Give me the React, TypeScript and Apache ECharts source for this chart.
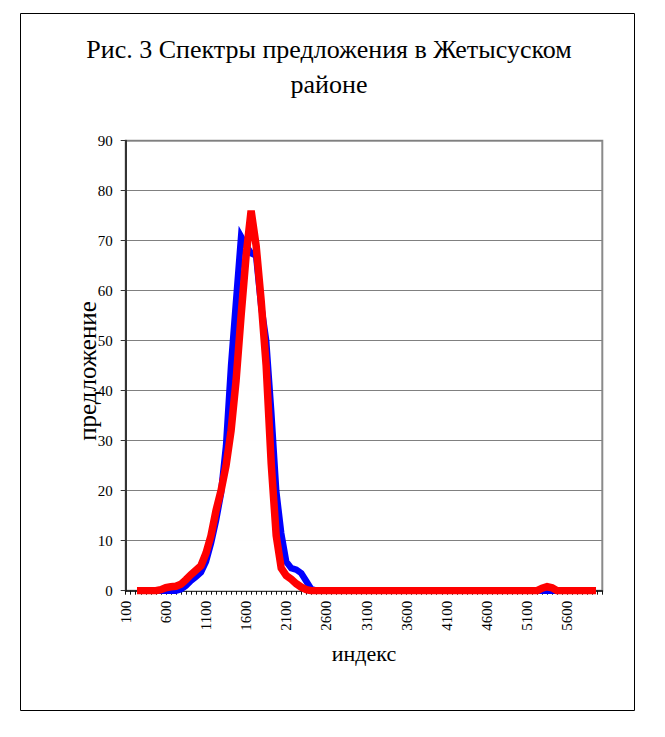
import React, { useEffect, useRef } from "react";
import * as echarts from "echarts";

const categories = [
  100, 162.5, 225, 287.5, 350, 412.5, 475, 537.5,
  600, 662.5, 725, 787.5, 850, 912.5, 975, 1037.5,
  1100, 1162.5, 1225, 1287.5, 1350, 1412.5, 1475, 1537.5,
  1600, 1662.5, 1725, 1787.5, 1850, 1912.5, 1975, 2037.5,
  2100, 2162.5, 2225, 2287.5, 2350, 2412.5, 2475, 2537.5,
  2600, 2662.5, 2725, 2787.5, 2850, 2912.5, 2975, 3037.5,
  3100, 3162.5, 3225, 3287.5, 3350, 3412.5, 3475, 3537.5,
  3600, 3662.5, 3725, 3787.5, 3850, 3912.5, 3975, 4037.5,
  4100, 4162.5, 4225, 4287.5, 4350, 4412.5, 4475, 4537.5,
  4600, 4662.5, 4725, 4787.5, 4850, 4912.5, 4975, 5037.5,
  5100, 5162.5, 5225, 5287.5, 5350, 5412.5, 5475, 5537.5,
  5600, 5662.5, 5725, 5787.5, 5850, 5912.5, 5975, 6037.5,
];

// blue series (index 0..95)
const blueValues = [
  null, null, null, 0, 0, 0, 0, 0,
  0, 0, 0, 0.3, 1, 2, 2.8, 3.7,
  5.8, 9.5, 14, 19.5, 29, 45, 58, 70.8,
  69, 67.5, 67, 57, 50, 36, 20, 11.5,
  5.8, 4.5, 4.2, 3.5, 1.9, 0.3, 0, 0,
  0, 0, 0, 0, 0, 0, 0, 0,
  0, 0, 0, 0, 0, 0, 0, 0,
  0, 0, 0, 0, 0, 0, 0, 0,
  0, 0, 0, 0, 0, 0, 0, 0,
  0, 0, 0, 0, 0, 0, 0, 0,
  0, 0, 0, 0, 0, 0, 0, 0,
  0, 0, 0, 0, 0, 0, null, null,
];

// red series (index 0..95)
const redValues = [
  null, null, null, 0, 0, 0, 0, 0.2,
  0.6, 0.8, 0.9, 1.3, 2.2, 3.2, 4.1, 5,
  7.5, 11, 16, 20, 25, 32, 42, 55,
  67, 76, 69, 58, 45, 25.5, 11, 4.5,
  3, 2.3, 1.4, 0.7, 0.2, 0, 0, 0,
  0, 0, 0, 0, 0, 0, 0, 0,
  0, 0, 0, 0, 0, 0, 0, 0,
  0, 0, 0, 0, 0, 0, 0, 0,
  0, 0, 0, 0, 0, 0, 0, 0,
  0, 0, 0, 0, 0, 0, 0, 0,
  0, 0, 0, 0.5, 0.8, 0.6, 0, 0,
  0, 0, 0, 0, 0, 0, null, null,
];

const yTicks = { min: 0, max: 90, interval: 10 };

const titleText = "Рис. 3 Спектры предложения в Жетысуском\nрайоне";
const xName = "индекс";
const yName = "предложение";

const FONT = "Liberation Serif";

export default function App() {
  const ref = useRef<HTMLDivElement>(null);

  useEffect(() => {
    if (!ref.current) return;
    const chart = echarts.init(ref.current, undefined, { renderer: "svg" });
    chart.setOption({
      animation: false,
      backgroundColor: "#ffffff",
      textStyle: { fontFamily: FONT },
      title: {
        text: titleText,
        left: 324,
        top: 27,
        textAlign: "center",
        textStyle: {
          fontFamily: FONT,
          fontSize: 26,
          fontWeight: "normal",
          color: "#000",
          lineHeight: 35,
        },
      },
      graphic: [
        {
          type: "rect",
          shape: { x: 20.5, y: 13.5, width: 614, height: 697 },
          style: { fill: "none", stroke: "#000", lineWidth: 1 },
          silent: true,
        },
        {
          type: "text",
          x: 87,
          y: 371,
          rotation: Math.PI / 2,
          silent: true,
          style: {
            text: yName,
            fontFamily: FONT,
            fontSize: 25,
            fill: "#000",
            textAlign: "center",
            textVerticalAlign: "middle",
          },
        },
      ],
      grid: {
        left: 125.7,
        right: 62.7,
        top: 140.7,
        bottom: 146.3,
        show: true,
        borderColor: "#8a8a8a",
        borderWidth: 2,
        backgroundColor: "transparent",
      },
      xAxis: {
        type: "category",
        data: categories.map((c) => String(c)),
        boundaryGap: false,
        name: xName,
        nameLocation: "middle",
        nameGap: 52,
        nameTextStyle: { fontFamily: FONT, fontSize: 22, color: "#000" },
        axisLine: { show: true, lineStyle: { color: "#111", width: 1.5 } },
        axisTick: {
          show: true,
          interval: 0,
          inside: false,
          length: 4,
          lineStyle: { color: "#111", width: 1 },
        },
        axisLabel: {
          interval: 7,
          rotate: 90,
          margin: 10,
          fontFamily: FONT,
          fontSize: 15,
          color: "#000",
        },
        splitLine: { show: false },
      },
      yAxis: {
        type: "value",
        min: yTicks.min,
        max: yTicks.max,
        interval: yTicks.interval,
        axisLine: { show: true, lineStyle: { color: "#333", width: 2 } },
        axisTick: {
          show: true,
          inside: false,
          length: 5,
          lineStyle: { color: "#333", width: 1 },
        },
        axisLabel: {
          margin: 13,
          fontFamily: FONT,
          fontSize: 15,
          color: "#000",
        },
        splitLine: { show: true, lineStyle: { color: "#808080", width: 1 } },
      },
      series: [
        {
          name: "blue-area",
          type: "line",
          data: blueValues,
          z: 1,
          symbol: "none",
          silent: true,
          lineStyle: { width: 0, opacity: 0 },
          areaStyle: { color: "#ffffff", opacity: 0.9 },
        },
        {
          name: "red-area",
          type: "line",
          data: redValues,
          z: 1,
          symbol: "none",
          silent: true,
          lineStyle: { width: 0, opacity: 0 },
          areaStyle: { color: "#ffffff", opacity: 0.9 },
        },
        {
          name: "blue",
          type: "line",
          data: blueValues,
          z: 3,
          symbol: "none",
          lineStyle: { color: "#0000ff", width: 6.5, cap: "square", join: "miter" },
        },
        {
          name: "red",
          type: "line",
          data: redValues,
          z: 4,
          symbol: "none",
          lineStyle: { color: "#ff0000", width: 7.5, cap: "square", join: "miter" },
        },
      ],
    });
    return () => chart.dispose();
  }, []);

  return (
    <div
      ref={ref}
      style={{ position: "fixed", left: 0, top: 0, width: 665, height: 737 }}
    />
  );
}
